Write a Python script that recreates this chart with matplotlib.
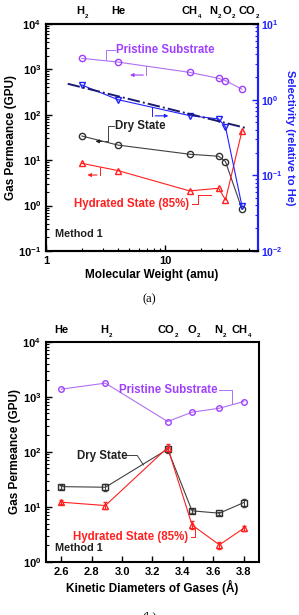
import matplotlib
matplotlib.use('Agg')
import matplotlib.pyplot as plt
import matplotlib.transforms as mtransforms

plt.rcParams['font.family'] = ['Liberation Sans', 'DejaVu Sans']
plt.rcParams['font.weight'] = 'bold'
plt.rcParams['axes.labelweight'] = 'bold'
plt.rcParams['mathtext.fontset'] = 'custom'
plt.rcParams['mathtext.rm'] = 'Liberation Sans:bold'
plt.rcParams['mathtext.bf'] = 'Liberation Sans:bold'
plt.rcParams['mathtext.it'] = 'Liberation Sans:bold'
plt.rcParams['font.size'] = 8

# ---- panel (a) data: permeance vs molecular weight ----
gas_base_a = ['H', 'He', 'CH', 'N', 'O', 'CO']
gas_sub_a = ['2', '', '4', '2', '2', '2']
mw = [2, 4, 16, 28, 32, 44]
pristine_a = [1750, 1450, 860, 635, 565, 365]
dry_a = [34, 21.5, 13.5, 12.2, 9.3, 0.83]
hydrated_a = [8.5, 5.9, 2.1, 2.4, 1.33, 44]
selectivity = [1.56, 1.0, 0.615, 0.556, 0.436, 0.039]
graham_x = [1.52, 48]
graham_y = [1.62, 0.42]

# ---- panel (b) data: permeance vs kinetic diameter ----
gas_base_b = ['He', 'H', 'CO', 'O', 'N', 'CH']
gas_sub_b = ['', '2', '2', '2', '2', '4']
kd = [2.6, 2.89, 3.3, 3.46, 3.64, 3.8]
pristine_b = [1380, 1775, 356, 527, 622, 822]
dry_b = [23.4, 22.8, 112, 8.5, 7.7, 12.0]
dry_b_err = [2, 3, 15, 0.6, 0.5, 2]
hydrated_b = [12.2, 10.6, 120, 4.7, 2.05, 4.1]
hydrated_b_err = [1, 1.5, 20, 0.8, 0.3, 0.4]

purple = '#a040ff'
purple_line = '#b070f0'
red = '#ff2020'
blue = '#2020ff'
navy = '#1a1a6e'
grey = '#404040'


def gas_labels(ax, xs, bases, subs, y, shifts):
    # gas names above the axes; the subscript hangs off to the right
    trans = mtransforms.blended_transform_factory(ax.transData, ax.transAxes)
    for x, b, s, dx in zip(xs, bases, subs, shifts):
        t = ax.annotate(b, xy=(x, y), xycoords=trans, xytext=(dx, 0),
                        textcoords='offset points', ha='center',
                        va='bottom', fontsize=8)
        if s:
            ax.annotate(s, xy=(1, 0), xycoords=t, xytext=(0.4, 0),
                        textcoords='offset points', fontsize=4.5,
                        ha='left', va='center')


def style_axes(ax):
    ax.tick_params(which='both', direction='in', labelsize=8)
    ax.tick_params(which='major', length=4, width=1)
    ax.tick_params(which='minor', length=2, width=0.8)
    for s in ax.spines.values():
        s.set_linewidth(1.5)


fig = plt.figure(figsize=(2.99, 6.15), dpi=100)

# ================= panel (a) =================
ax1 = fig.add_axes([0.154, 0.592, 0.709, 0.369])
ax1.set_xscale('log')
ax1.set_yscale('log')
ax1.set_xlim(1, 60)
ax1.set_ylim(0.1, 1e4)

ax1.plot(mw, pristine_a, color=purple_line, lw=0.8, marker='o', ms=4.5,
         mfc='none', mec=purple)
ax1.plot(mw, dry_a, color=grey, lw=0.8, marker='o', ms=4.5,
         mfc='none', mec='#303030')
ax1.plot(mw, hydrated_a, color=red, lw=0.8, marker='^', ms=4.5,
         mfc='none', mec=red)

ax2 = ax1.twinx()
ax2.set_yscale('log')
ax2.set_ylim(1e-2, 10)
ax2.plot(mw, selectivity, color=blue, lw=0.8, marker='v', ms=5,
         mfc='none', mec=blue)
ax2.plot(graham_x, graham_y, color=navy, lw=1.4, ls='-.')

style_axes(ax1)
style_axes(ax2)
ax2.spines['right'].set_color(blue)
ax2.tick_params(axis='y', which='both', colors=blue, labelsize=7.5, pad=2)
ax1.tick_params(axis='y', which='both', right=False)

ax1.set_xticks([1, 10])
ax1.set_xticklabels(['1', '10'])
ax1.set_xlabel('Molecular Weight (amu)', fontsize=8.5, labelpad=2)
ax1.set_ylabel('Gas Permeance (GPU)', fontsize=8.5, labelpad=1)
ax2.set_ylabel('Selectivity (relative to He)', fontsize=8, color=blue,
               rotation=270, labelpad=9)

gas_labels(ax1, mw, gas_base_a, gas_sub_a, 1.035, [-1.5, 0, 0, -3.5, 1, 3.5])

# callouts (Origin style brackets and axis arrows)
ax1.text(3.85, 2670, 'Pristine Substrate', color=purple, fontsize=8.3,
         va='center')
ax1.plot([3.16, 3.16, 3.8], [1600, 2670, 2670], color=purple_line, lw=0.7)
ax1.annotate('', xy=(4.8, 750), xytext=(6.9, 750),
             arrowprops=dict(arrowstyle='-|>', color=purple, lw=0.8,
                             mutation_scale=5))
ax1.plot([6.9, 6.9], [750, 1180], color=purple_line, lw=0.7)

ax1.text(3.76, 57, 'Dry State', color='#202020', fontsize=8.3, va='center')
ax1.plot([3.28, 3.28, 3.7], [28, 57, 57], color=grey, lw=0.7)
ax1.annotate('', xy=(2.46, 26), xytext=(3.1, 26),
             arrowprops=dict(arrowstyle='-|>', color='#202020', lw=0.8,
                             mutation_scale=5))
ax1.plot([3.1, 3.28], [26, 26], color=grey, lw=0.7)

ax1.text(1.72, 1.1, 'Hydrated State (85%)', color=red, fontsize=8.3,
         va='center')
ax1.plot([16.8, 19, 19, 24], [1.1, 1.1, 1.75, 1.75], color=red, lw=0.7)
ax1.annotate('', xy=(2.11, 4.7), xytext=(2.82, 4.7),
             arrowprops=dict(arrowstyle='-|>', color=red, lw=0.8,
                             mutation_scale=5))
ax1.plot([2.82, 2.82], [4.7, 7.2], color=red, lw=0.7)

ax2.annotate('', xy=(11.2, 0.61), xytext=(7.8, 0.61),
             arrowprops=dict(arrowstyle='-|>', color=blue, lw=0.8,
                             mutation_scale=5))
ax2.plot([7.8, 7.8], [0.61, 0.8], color=blue, lw=0.7)

ax1.text(0.04, 0.06, 'Method 1', transform=ax1.transAxes, fontsize=7.8,
         color='#202020')

fig.text(0.5, 1 - 299 / 615, '(a)', ha='center', va='center',
         fontsize=9, family='Liberation Serif', weight='normal')

# ================= panel (b) =================
ax3 = fig.add_axes([0.154, 0.0862, 0.712, 0.358])
ax3.set_yscale('log')
ax3.set_xlim(2.5, 3.9)
ax3.set_ylim(1, 1e4)

ax3.plot(kd, pristine_b, color=purple_line, lw=0.8, marker='o', ms=4,
         mfc='none', mec=purple)
ax3.errorbar(kd, dry_b, yerr=dry_b_err, color=grey, lw=0.8, marker='s',
             ms=4, mfc='none', mec='#303030', capsize=1.5, elinewidth=0.7)
ax3.errorbar(kd, hydrated_b, yerr=hydrated_b_err, color=red, lw=0.8,
             marker='^', ms=4.5, mfc='none', mec=red, capsize=1.5,
             elinewidth=0.7)

style_axes(ax3)
xt = [2.6, 2.8, 3.0, 3.2, 3.4, 3.6, 3.8]
ax3.set_xticks(xt)
ax3.set_xticklabels(['%.1f' % v for v in xt])
ax3.set_xlabel('Kinetic Diameters of Gases (Å)', fontsize=8.5, labelpad=2)
ax3.set_ylabel('Gas Permeance (GPU)', fontsize=8.5, labelpad=1)

gas_labels(ax3, kd, gas_base_b, gas_sub_b, 1.03, [0, -1, -1.5, 0, -0.5, -3])

ax3.text(2.98, 1350, 'Pristine Substrate', color=purple, fontsize=8.3,
         va='center')
ax3.plot([3.64, 3.72, 3.72], [1350, 1350, 760], color=purple_line, lw=0.7)

ax3.text(2.705, 86, 'Dry State', color='#202020', fontsize=8.3,
         va='center')
ax3.plot([3.03, 3.1, 3.14], [86, 86, 58], color=grey, lw=0.7)

ax3.text(2.675, 2.85, 'Hydrated State (85%)', color=red, fontsize=8.3,
         va='center')
ax3.plot([3.45, 3.48, 3.48], [2.85, 2.85, 4.4], color=red, lw=0.7)

ax3.text(0.04, 0.05, 'Method 1', transform=ax3.transAxes, fontsize=7.8,
         color='#202020')

fig.text(0.5, -0.003, '(b)', ha='center', va='center',
         fontsize=9, family='Liberation Serif', weight='normal')

fig.savefig('out.png', dpi=100)
